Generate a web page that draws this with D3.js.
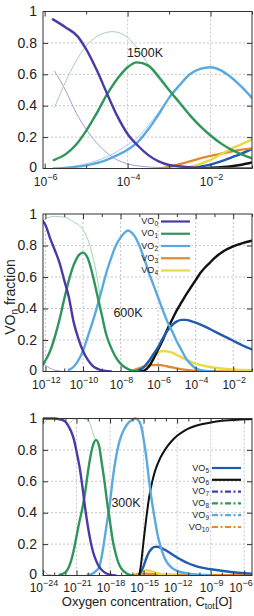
<!doctype html>
<html>
<head>
<meta charset="utf-8">
<title>VOn fraction</title>
<script src="https://d3js.org/d3.v7.min.js"></script>
<style>
  body { margin: 0; background: #ffffff; }
  text { font-family: "Liberation Sans", Arial, Helvetica, sans-serif; fill: #222; }
</style>
</head>
<body>
<script>
// ---- data: [log10 C_tot[O], fraction] ----

// 1500 K
var k1500_vo0 = [[-5.8,0.95],[-5.5,0.9],[-5.2,0.84],[-5,0.76],[-4.75,0.63],[-4.5,0.48],[-4.25,0.335],[-4,0.22],[-3.75,0.145],[-3.5,0.085],[-3.25,0.045],[-3,0.022],[-2.5,0.008],[-2,0.003],[-1.5,0.001],[-1,0]];
var k1500_vo1 = [[-5.78,0.054],[-5.5,0.09],[-5.25,0.15],[-5,0.24],[-4.75,0.35],[-4.5,0.47],[-4.25,0.57],[-4,0.645],[-3.78,0.676],[-3.5,0.655],[-3.25,0.585],[-3,0.5],[-2.75,0.42],[-2.5,0.34],[-2.25,0.27],[-2,0.21],[-1.75,0.16],[-1.5,0.12],[-1.25,0.09],[-1,0.065]];
var k1500_vo2 = [[-5.78,0],[-5.5,0.004],[-5,0.02],[-4.5,0.055],[-4.25,0.085],[-4,0.12],[-3.75,0.17],[-3.5,0.25],[-3.25,0.345],[-3,0.45],[-2.75,0.53],[-2.5,0.6],[-2.25,0.635],[-2,0.645],[-1.75,0.625],[-1.5,0.58],[-1.25,0.52],[-1,0.45]];
var k1500_vo3 = [[-3.25,0],[-3,0.01],[-2.75,0.027],[-2.5,0.045],[-2.25,0.065],[-2,0.08],[-1.75,0.095],[-1.5,0.108],[-1.25,0.12],[-1,0.128]];
var k1500_vo4 = [[-2.75,0],[-2.5,0.01],[-2.25,0.03],[-2,0.055],[-1.75,0.09],[-1.5,0.125],[-1.25,0.155],[-1,0.185]];
var k1500_vo5 = [[-2.75,0],[-2.5,0.005],[-2.25,0.012],[-2,0.025],[-1.75,0.045],[-1.5,0.07],[-1.25,0.095],[-1,0.125]];
var k1500_vo6 = [[-2.5,0],[-2,0.004],[-1.5,0.014],[-1.25,0.024],[-1,0.038]];
var k1500_vo7 = [[-5.76,0.62],[-5.5,0.5],[-5.25,0.36],[-5,0.25],[-4.75,0.165],[-4.5,0.1],[-4.25,0.055],[-4,0.03],[-3.5,0.01],[-3,0.003],[-2.5,0]];
var k1500_vo8 = [[-5.76,0.39],[-5.5,0.55],[-5.25,0.68],[-5,0.78],[-4.75,0.84],[-4.5,0.867],[-4.36,0.872],[-4.25,0.868],[-4,0.835],[-3.75,0.76],[-3.5,0.66],[-3.25,0.57],[-3,0.49]];
var k1500_vo9 = [[-5.5,0.008],[-5,0.03],[-4.5,0.075],[-4,0.15],[-3.75,0.2],[-3.5,0.275],[-3.25,0.36],[-3,0.45]];

// 600 K
var k600_vo0 = [[-12.13,0.955],[-12,0.93],[-11.75,0.845],[-11.5,0.77],[-11.25,0.69],[-11,0.58],[-10.75,0.47],[-10.5,0.315],[-10.25,0.21],[-10,0.13],[-9.75,0.075],[-9.5,0.038],[-9.25,0.018],[-9,0.007],[-8.5,0]];
var k600_vo1 = [[-12.13,0.045],[-12,0.07],[-11.75,0.13],[-11.5,0.22],[-11.25,0.33],[-11,0.46],[-10.75,0.58],[-10.5,0.675],[-10.25,0.735],[-10,0.755],[-9.75,0.72],[-9.5,0.62],[-9.25,0.49],[-9,0.36],[-8.75,0.23],[-8.5,0.15],[-8.25,0.09],[-8,0.05],[-7.75,0.025],[-7.5,0.01],[-7,0]];
var k600_vo2 = [[-10.75,0.01],[-10.5,0.03],[-10.25,0.07],[-10,0.13],[-9.75,0.22],[-9.5,0.31],[-9.25,0.41],[-9,0.52],[-8.75,0.63],[-8.5,0.72],[-8.25,0.8],[-8,0.85],[-7.75,0.885],[-7.6,0.895],[-7.5,0.89],[-7.25,0.86],[-7,0.8],[-6.75,0.72],[-6.5,0.63],[-6.25,0.55],[-6,0.47],[-5.75,0.39],[-5.5,0.315],[-5.25,0.255],[-5,0.19],[-4.75,0.135],[-4.5,0.08],[-4.25,0.045],[-4,0.02],[-3.5,0.004],[-3,0]];
var k600_vo3 = [[-7.5,0],[-7.25,0.01],[-7,0.022],[-6.5,0.04],[-6,0.042],[-5.5,0.032],[-5,0.02],[-4.5,0.01],[-4,0.004],[-3,0.001],[-1,0]];
var k600_vo4 = [[-7.25,0],[-7,0.01],[-6.75,0.03],[-6.5,0.06],[-6.25,0.095],[-6,0.12],[-5.75,0.13],[-5.5,0.128],[-5.25,0.12],[-5,0.105],[-4.75,0.09],[-4.5,0.075],[-4.25,0.062],[-4,0.05],[-3.5,0.035],[-3,0.024],[-2.5,0.018],[-2,0.013],[-1,0.008]];
var k600_vo5 = [[-7.25,0],[-7,0.01],[-6.75,0.03],[-6.5,0.065],[-6.25,0.11],[-6,0.155],[-5.75,0.21],[-5.5,0.26],[-5.25,0.295],[-5,0.318],[-4.75,0.328],[-4.5,0.328],[-4.25,0.32],[-4,0.31],[-3.5,0.285],[-3,0.255],[-2.5,0.225],[-2,0.195],[-1.5,0.165],[-1,0.14]];
var k600_vo6 = [[-7,0],[-6.75,0.005],[-6.5,0.03],[-6.25,0.08],[-6,0.14],[-5.75,0.2],[-5.5,0.27],[-5.25,0.33],[-5,0.39],[-4.75,0.44],[-4.5,0.49],[-4.25,0.535],[-4,0.58],[-3.75,0.625],[-3.5,0.66],[-3.25,0.69],[-3,0.72],[-2.5,0.765],[-2,0.795],[-1.5,0.815],[-1,0.83]];
var k600_vo7 = [[-12.13,0.05],[-11.75,0.02],[-11.5,0.008],[-11,0]];
var k600_vo8 = [[-12.13,0.955],[-12,0.97],[-11.5,0.985],[-11,0.98],[-10.5,0.95],[-10,0.9],[-9.75,0.84],[-9.5,0.74],[-9.25,0.6],[-9.1,0.48]];

// 300 K
var k300_vo0 = [[-24,1],[-23,1],[-22.5,0.995],[-22,0.98],[-21.75,0.955],[-21.5,0.92],[-21.25,0.87],[-21,0.79],[-20.75,0.7],[-20.5,0.58],[-20.25,0.44],[-20,0.32],[-19.75,0.22],[-19.5,0.145],[-19.25,0.095],[-19,0.058],[-18.5,0.02],[-18,0.006],[-17.5,0]];
var k300_vo1 = [[-22.5,0.005],[-22,0.02],[-21.75,0.045],[-21.5,0.09],[-21.25,0.16],[-21,0.25],[-20.75,0.34],[-20.5,0.42],[-20.25,0.52],[-20,0.65],[-19.75,0.76],[-19.5,0.835],[-19.25,0.862],[-19,0.83],[-18.75,0.72],[-18.5,0.6],[-18.25,0.46],[-18,0.34],[-17.75,0.22],[-17.5,0.14],[-17.25,0.08],[-17,0.045],[-16.5,0.012],[-16,0]];
var k300_vo2 = [[-20,0.003],[-19.5,0.015],[-19.25,0.03],[-19,0.05],[-18.75,0.12],[-18.5,0.23],[-18.25,0.35],[-18,0.47],[-17.75,0.62],[-17.5,0.74],[-17.25,0.83],[-17,0.89],[-16.5,0.96],[-16,0.993],[-15.75,1],[-15.5,0.99],[-15.25,0.96],[-15,0.87],[-14.75,0.75],[-14.5,0.6],[-14.25,0.47],[-14,0.36],[-13.75,0.26],[-13.5,0.19],[-13.25,0.135],[-13,0.095],[-12.5,0.05],[-12,0.03],[-11,0.012],[-10,0.004],[-9,0]];
var k300_vo3 = [[-16,0],[-15.5,0.008],[-15,0.012],[-14.5,0.01],[-13,0.005],[-10,0.003],[-5.3,0.002]];
var k300_vo4 = [[-15.5,0],[-15.25,0.012],[-15,0.028],[-14.75,0.033],[-14.5,0.03],[-14,0.02],[-13.5,0.01],[-13,0.005],[-12,0]];
var k300_vo5 = [[-15.4,0],[-15.25,0.02],[-15,0.06],[-14.75,0.11],[-14.5,0.15],[-14.25,0.172],[-14,0.182],[-13.75,0.183],[-13.5,0.178],[-13,0.16],[-12.5,0.137],[-12,0.115],[-11.5,0.095],[-11,0.078],[-10.5,0.064],[-10,0.053],[-9,0.04],[-8,0.03],[-7,0.021],[-6,0.015],[-5.3,0.012]];
var k300_vo6 = [[-15.4,0],[-15.25,0.06],[-15,0.22],[-14.75,0.37],[-14.5,0.5],[-14.25,0.59],[-14,0.66],[-13.5,0.75],[-13,0.81],[-12.5,0.855],[-12,0.89],[-11.5,0.915],[-11,0.935],[-10,0.96],[-9,0.975],[-8,0.985],[-7,0.99],[-6,0.995],[-5.3,0.997]];
var k300_vo7 = [[-24,0.04],[-23.75,0.015],[-23.5,0.005],[-23,0]];
var k300_vo8 = [[-24,0.96],[-23.75,0.985],[-23.5,0.998],[-23,1]];
var k300_vo8b = [[-21.6,0.97],[-21.25,0.995],[-21,1],[-20.5,1],[-20,0.99],[-19.75,0.96],[-19.5,0.9],[-19.3,0.862]];

// legends
var legend600 = ["0","1","2","3","4"];
var legend300 = ["5","6","7","8","9","10"];

// ---- styles ----
var col = {
  0: "#4a3aa6", 1: "#2e965a", 2: "#5aaae0", 3: "#e08a32", 4: "#e6da46",
  5: "#1f5caf", 6: "#111111", 7: "#4a3aa6", 8: "#2e965a", 9: "#5aaae0", 10: "#e08a32"
};
var faint = { 7: "#a898d8", 8: "#9fd4b0", 9: "#a6d0f0" };

var W = 254, H = 616, X0 = 43, X1 = 252;

var svg = d3.select("body").append("svg")
  .attr("width", W).attr("height", H);
svg.append("rect").attr("width", W).attr("height", H).attr("fill", "#fff");

var panels = [
  { top: 11.5, bottom: 168.5, lo: -6.04, hi: -1, majors: [-6,-4,-2], minors: [-5,-3,-1],
    label: "1500K", lx: 145, ly: 57, labY: 186,
    series: [
      [k1500_vo7, faint[7], 1], [k1500_vo8, faint[8], 1], [k1500_vo9, faint[9], 1],
      [k1500_vo6, col[6], 2.4], [k1500_vo5, col[5], 2.4], [k1500_vo3, col[3], 2.4], [k1500_vo4, col[4], 2.4],
      [k1500_vo2, col[2], 2.4], [k1500_vo1, col[1], 2.4], [k1500_vo0, col[0], 2.4]
    ] },
  { top: 214, bottom: 371.5, lo: -12.13, hi: -1, majors: [-12,-10,-8,-6,-4,-2], minors: [-11,-9,-7,-5,-3,-1],
    label: "600K", lx: 128, ly: 317, labY: 389,
    series: [
      [k600_vo7, faint[7], 1], [k600_vo8, faint[8], 1],
      [k600_vo3, col[3], 2.4], [k600_vo4, col[4], 2.4], [k600_vo6, col[6], 2.4], [k600_vo5, col[5], 2.4],
      [k600_vo2, col[2], 2.4], [k600_vo1, col[1], 2.4], [k600_vo0, col[0], 2.4]
    ] },
  { top: 418.5, bottom: 575.5, lo: -24, hi: -5.3, majors: [-24,-21,-18,-15,-12,-9,-6],
    minors: d3.range(-23, -5).filter(function(e){ return e % 3 !== 0; }),
    label: "300K", lx: 126, ly: 507, labY: 592,
    series: [
      [k300_vo7, faint[7], 1], [k300_vo8, faint[8], 1], [k300_vo8b, faint[8], 1],
      [k300_vo3, col[3], 2.4], [k300_vo4, col[4], 2.4], [k300_vo5, col[5], 2.4], [k300_vo6, col[6], 2],
      [k300_vo2, col[2], 2.4], [k300_vo1, col[1], 2.4], [k300_vo0, col[0], 2.4]
    ] }
];

panels.forEach(function(p, i) {
  var x = d3.scaleLog().domain([Math.pow(10, p.lo), Math.pow(10, p.hi)]).range([X0, X1]);
  var y = d3.scaleLinear().domain([0, 1]).range([p.bottom, p.top]);
  var g = svg.append("g");

  // grid
  g.selectAll(".vg").data(p.majors.filter(function(e){ return e > p.lo + 0.1; }))
    .enter().append("line")
    .attr("x1", function(e){ return x(Math.pow(10, e)); })
    .attr("x2", function(e){ return x(Math.pow(10, e)); })
    .attr("y1", p.top).attr("y2", p.bottom)
    .attr("stroke", "#b8b8b8").attr("stroke-width", 0.8).attr("stroke-dasharray", "2,2");
  g.selectAll(".hg").data([0.2, 0.4, 0.6, 0.8])
    .enter().append("line")
    .attr("x1", X0).attr("x2", X1)
    .attr("y1", function(v){ return y(v); }).attr("y2", function(v){ return y(v); })
    .attr("stroke", "#b8b8b8").attr("stroke-width", 0.8).attr("stroke-dasharray", "2,2");

  // curves
  svg.append("clipPath").attr("id", "clip" + i).append("rect")
    .attr("x", X0).attr("y", p.top - 2).attr("width", X1 - X0).attr("height", p.bottom - p.top + 2);
  var line = d3.line()
    .x(function(d){ return x(Math.pow(10, d[0])); })
    .y(function(d){ return y(d[1]); })
    .curve(d3.curveMonotoneX);
  var cg = g.append("g").attr("clip-path", "url(#clip" + i + ")");
  p.series.forEach(function(s) {
    cg.append("path").datum(s[0]).attr("d", line)
      .attr("fill", "none").attr("stroke", s[1]).attr("stroke-width", s[2])
      .attr("stroke-linejoin", "round").attr("stroke-linecap", "round");
  });

  // ticks (inward) on all four sides
  var tickVals = p.majors.map(function(e){ return Math.pow(10, e); });
  var minorVals = p.minors.map(function(e){ return Math.pow(10, e); });
  [[d3.axisBottom, p.bottom], [d3.axisTop, p.top]].forEach(function(a) {
    g.append("g").attr("transform", "translate(0," + a[1] + ")")
      .call(a[0](x).tickValues(tickVals).tickSize(-5).tickFormat(""))
      .call(function(s){ s.select(".domain").remove(); s.selectAll("line").attr("stroke", "#333"); });
    g.append("g").attr("transform", "translate(0," + a[1] + ")")
      .call(a[0](x).tickValues(minorVals).tickSize(-3).tickFormat(""))
      .call(function(s){ s.select(".domain").remove(); s.selectAll("line").attr("stroke", "#333"); });
  });
  [[d3.axisLeft, X0], [d3.axisRight, X1]].forEach(function(a) {
    g.append("g").attr("transform", "translate(" + a[1] + ",0)")
      .call(a[0](y).tickValues([0.2, 0.4, 0.6, 0.8]).tickSize(-5).tickFormat(""))
      .call(function(s){ s.select(".domain").remove(); s.selectAll("line").attr("stroke", "#333"); });
  });

  // border
  g.append("rect").attr("x", X0).attr("y", p.top)
    .attr("width", X1 - X0).attr("height", p.bottom - p.top)
    .attr("fill", "none").attr("stroke", "#333").attr("stroke-width", 1);

  // y labels
  g.selectAll(".yl").data([0, 0.2, 0.4, 0.6, 0.8, 1]).enter().append("text")
    .attr("x", 37).attr("y", function(v){ return y(v) - (v === 0 ? 1 : 0); }).attr("dy", "0.33em")
    .attr("text-anchor", "end").attr("font-size", 14)
    .text(function(v){ return v; });

  // x labels 10^e (kept inside the page on the right)
  var xl = g.selectAll(".xl").data(p.majors).enter().append("text")
    .attr("x", function(e){ return Math.min(x(Math.pow(10, e)) + 1, W - 13); })
    .attr("y", p.labY).attr("text-anchor", "middle").attr("font-size", 12);
  xl.append("tspan").text("10");
  xl.append("tspan").attr("dy", -6).attr("font-size", 9).text(function(e){ return "\u2212" + (-e); });

  // temperature label
  g.append("text").attr("x", p.lx).attr("y", p.ly).attr("text-anchor", "middle")
    .attr("font-size", 12.5).text(p.label);
});

// legends
function legend(items, xr, y0, dy, dashedFrom) {
  items.forEach(function(n, k) {
    var yy = y0 + k * dy;
    var t = svg.append("text").attr("x", xr).attr("y", yy).attr("dy", "0.3em")
      .attr("text-anchor", "end").attr("font-size", 9).attr("fill", "#444");
    t.append("tspan").text("VO");
    t.append("tspan").attr("font-size", 6.5).attr("dy", 2).text(n);
    svg.append("line").attr("x1", xr + 3).attr("x2", xr + 32).attr("y1", yy).attr("y2", yy)
      .attr("stroke", col[+n]).attr("stroke-width", 2.2)
      .attr("stroke-dasharray", +n >= dashedFrom ? "6,2.5,2,2.5" : null);
  });
}
legend(legend600, 158, 221.5, 12.25, 99);
legend(legend300, 209, 468, 11.8, 7);

// axis titles
var yt = svg.append("text").attr("transform", "translate(15,297) rotate(-90)")
  .attr("text-anchor", "middle").attr("font-size", 14);
yt.append("tspan").text("VO");
yt.append("tspan").attr("font-size", 10).attr("dy", 3).text("n");
yt.append("tspan").attr("dy", -3).text(" fraction");

var xt = svg.append("text").attr("x", 147).attr("y", 606)
  .attr("text-anchor", "middle").attr("font-size", 13);
xt.append("tspan").text("Oxygen concentration, C");
xt.append("tspan").attr("font-size", 9).attr("dy", 3).text("tot");
xt.append("tspan").attr("dy", -3).text("[O]");
</script>
</body>
</html>
